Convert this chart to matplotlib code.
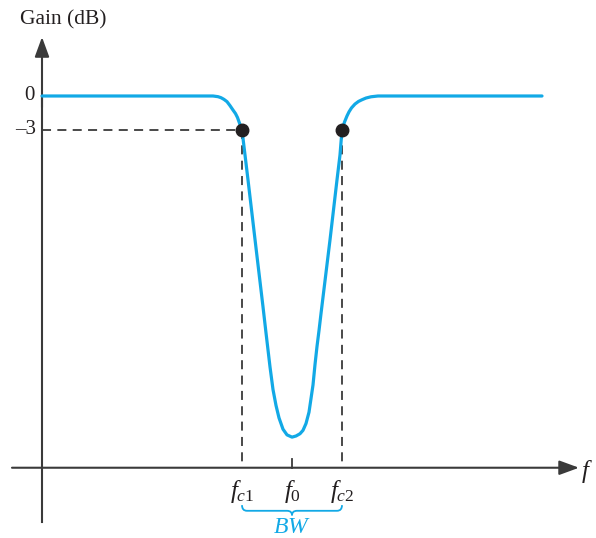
import matplotlib.pyplot as plt
from matplotlib.path import Path
from matplotlib.patches import PathPatch

plt.rcParams['font.family'] = 'Liberation Serif'
plt.rcParams['mathtext.fontset'] = 'custom'
plt.rcParams['mathtext.rm'] = 'Liberation Serif'
plt.rcParams['mathtext.it'] = 'Liberation Serif:italic'

# band-stop response, frequency in arbitrary units (f0 = 5), gain in dB
freq = [0, 3.30, 3.42, 3.52, 3.58, 3.64, 3.70, 3.76, 3.82, 3.87, 3.91, 3.95, 4.0,
        4.06, 4.12, 4.28, 4.42, 4.48, 4.52, 4.56, 4.62, 4.68, 4.74, 4.82, 4.90,
        5.0, 5.08, 5.16, 5.22, 5.28, 5.34, 5.38, 5.42, 5.46, 5.50, 5.54, 5.58,
        5.76, 5.90, 5.96, 6.0, 6.05, 6.10, 6.14, 6.19, 6.26, 6.33, 6.40, 6.48,
        6.58, 6.72, 10.0]
gain = [0, 0, 0, -0.06, -0.15, -0.3, -0.5, -0.85, -1.24, -1.55, -1.9, -2.4, -3.0,
        -5.2, -7.4, -13.4, -18.6, -20.9, -22.4, -23.9, -25.9, -27.3, -28.4, -29.4, -29.9,
        -30.1, -30.0, -29.8, -29.5, -28.9, -27.9, -26.7, -25.5, -23.7, -22.1, -20.7, -19.2,
        -12.7, -7.4, -5.2, -3.0, -2.3, -1.76, -1.40, -1.05, -0.71, -0.48, -0.33, -0.18,
        -0.07, 0, 0]

fc1, f0, fc2 = 4.0, 5.0, 6.0
cutoff_db = -3
tick_labels = [r'$f_{c1}$', r'$f_0$', r'$f_{c2}$']

blue = '#12a9e6'
dark = '#3a3a3a'
ink = '#231f20'
axis_y = -32.8

fig = plt.figure(figsize=(5.96, 5.38), dpi=100)
ax = fig.add_axes([0, 0, 1, 1])
ax.set_xlim(-0.84, 11.08)
ax.set_ylim(-39.0, 8.47)
ax.axis('off')

# axes with arrows
ax.plot([0, 0], [-37.6, 0], color=dark, lw=1.5)
ax.annotate('', xy=(0, 5.2), xytext=(0, -1), arrowprops=dict(
    arrowstyle='-|>,head_length=0.6,head_width=0.22', mutation_scale=20,
    color=dark, lw=1.5, shrinkA=0, shrinkB=0))
ax.annotate('', xy=(10.74, axis_y), xytext=(-0.6, axis_y), arrowprops=dict(
    arrowstyle='-|>,head_length=0.6,head_width=0.22', mutation_scale=20,
    color=dark, lw=1.5, shrinkA=0, shrinkB=0))

# dashed guides
dash = (0, (5, 3.5))
ax.plot([0, fc1], [cutoff_db, cutoff_db], color=dark, lw=1.3, ls=dash)
ax.plot([fc1, fc1], [cutoff_db, axis_y], color=dark, lw=1.3, ls=dash)
ax.plot([fc2, fc2], [cutoff_db, axis_y], color=dark, lw=1.3, ls=dash)
ax.plot([f0, f0], [axis_y, axis_y + 0.8], color=dark, lw=1.3)

# response curve
ax.plot(freq, gain, color=blue, lw=2.3, solid_joinstyle='round',
        solid_capstyle='round', zorder=3)
ax.plot([fc1, fc2], [cutoff_db, cutoff_db], 'o', color=ink, ms=9, zorder=4)

# text
ax.text(-0.44, 6.7, 'Gain (dB)', fontsize=15.5, ha='left', va='center', color=ink)
ax.text(-0.15, 0, '0', fontsize=15, ha='right', va='center', color=ink)
ax.text(-0.12, cutoff_db, '\u20133', fontsize=15, ha='right', va='center', color=ink)
ax.text(10.9, axis_y - 0.3, r'$f$', fontsize=18, ha='center', va='center', color=ink)
for x, lab in zip([fc1, f0, fc2], tick_labels):
    ax.text(x, -34.9, lab, fontsize=18, ha='center', va='center', color=ink)

# bandwidth brace
top, mid, tip, r = -36.1, -36.6, -37.0, 0.1
verts = [(fc1, top), (fc1, mid), (fc1 + r, mid), (f0 - r, mid), (f0, mid), (f0, tip),
         (f0, mid), (f0 + r, mid), (fc2 - r, mid), (fc2, mid), (fc2, top)]
codes = [Path.MOVETO, Path.CURVE3, Path.CURVE3, Path.LINETO, Path.CURVE3, Path.CURVE3,
         Path.CURVE3, Path.CURVE3, Path.LINETO, Path.CURVE3, Path.CURVE3]
ax.add_patch(PathPatch(Path(verts, codes), fill=False, color=blue, lw=1.3))
ax.text(f0, -38.1, r'$BW$', fontsize=17, ha='center', va='center', color=blue)

fig.savefig('out.png', dpi=100)
